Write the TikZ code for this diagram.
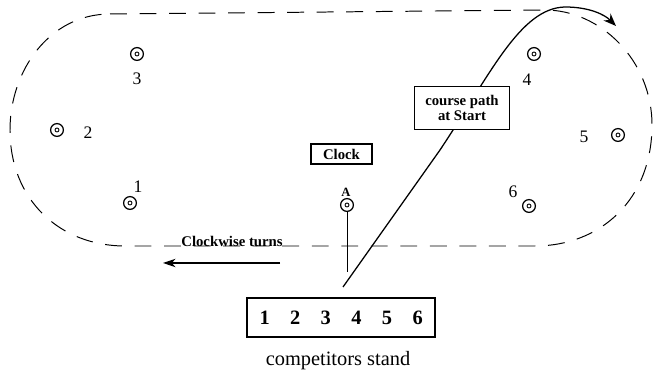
\documentclass[tikz,border=0pt]{standalone}
\usepackage{fontspec}
\setmainfont{Liberation Serif}
\usetikzlibrary{arrows.meta}

\begin{document}
\begin{tikzpicture}[x=0.025cm,y=-0.025cm,
    target/.style={circle,draw,line width=0.9pt,minimum size=0.32cm,inner sep=0pt,
      path picture={\draw[line width=0.6pt] (path picture bounding box.center) circle (0.05cm);}},
    marklabel/.style={font=\fontsize{12.5}{13}\selectfont,inner sep=0pt},
    boxlabel/.style={draw,line width=1pt,fill=white,font=\bfseries\fontsize{10.5}{11}\selectfont,align=center,inner sep=0pt},
    standnum/.style={font=\bfseries\fontsize{14.5}{15}\selectfont,inner sep=0pt},
    loop/.style={line width=0.7pt,dash pattern=on 12pt off 9pt}]
        \useasboundingbox (0,0) rectangle (653,372);
        % dashed loop round the course
        \draw[loop] (110,14) -- (545,10) .. controls (600,10) and (652,60) .. (652,125)
          .. controls (652,200) and (600,246) .. (535,246) -- (125,246)
          .. controls (60,246) and (10,200) .. (10,130) .. controls (10,70) and (50,14) .. (110,14);
        % targets
        \node[target] (t1) at (130,203) {};
        \node[target] (t2) at (57,130) {};
        \node[target] (t3) at (137,54) {};
        \node[target] (t4) at (534,54) {};
        \node[target] (t5) at (618,135) {};
        \node[target] (t6) at (529,206) {};
        \node[target] (tA) at (347,205) {};
        \node[marklabel] (l1) at (138,187) {1};
        \node[marklabel] (l2) at (88,133) {2};
        \node[marklabel] (l3) at (137,79) {3};
        \node[marklabel] (l4) at (527,80) {4};
        \node[marklabel] (l5) at (584,137) {5};
        \node[marklabel] (l6) at (513,192) {6};
        \node[font=\bfseries\fontsize{9}{10}\selectfont,inner sep=0pt] (lA) at (346,192) {A};
        % course path at start
        \coordinate (start) at (343,287);
        \coordinate (tip) at (616,26);
        \draw[line width=0.9pt,-{Stealth[length=9pt,width=7pt]}] (start) -- (440,150)
          .. controls (490,75) and (520,8) .. (565,7) .. controls (590,7) and (605,15) .. (tip);
        \node[boxlabel,minimum width=2.375cm,minimum height=1.075cm] (course) at (462,108) {course path\\at Start};
        \node[boxlabel,minimum width=1.525cm,minimum height=0.5cm] (clock) at (341.5,154) {Clock};
        \coordinate (Aend) at (347,272);
        \draw[line width=0.4pt] (tA) -- (Aend);
        % turning direction
        \node[font=\bfseries\fontsize{10.5}{11}\selectfont,inner sep=0pt] (turns) at (232,241) {Clockwise turns};
        \coordinate (turnsR) at (280,263);
        \coordinate (turnsL) at (163,263);
        \draw[line width=0.8pt,-{Stealth[length=9pt,width=6pt]}] (turnsR) -- (turnsL);
        % competitors stand
        \node[draw,line width=0.9pt,minimum width=4.7cm,minimum height=0.975cm] (stand) at (341,317.5) {};
        \foreach \n in {1,...,6}
          \node[standnum] (num\n) at ({234+30.6*\n},318) {\n};
        \node[font=\fontsize{14.5}{15}\selectfont,inner sep=0pt] (standlabel) at (338,361) {competitors stand};
\end{tikzpicture}
\end{document}
